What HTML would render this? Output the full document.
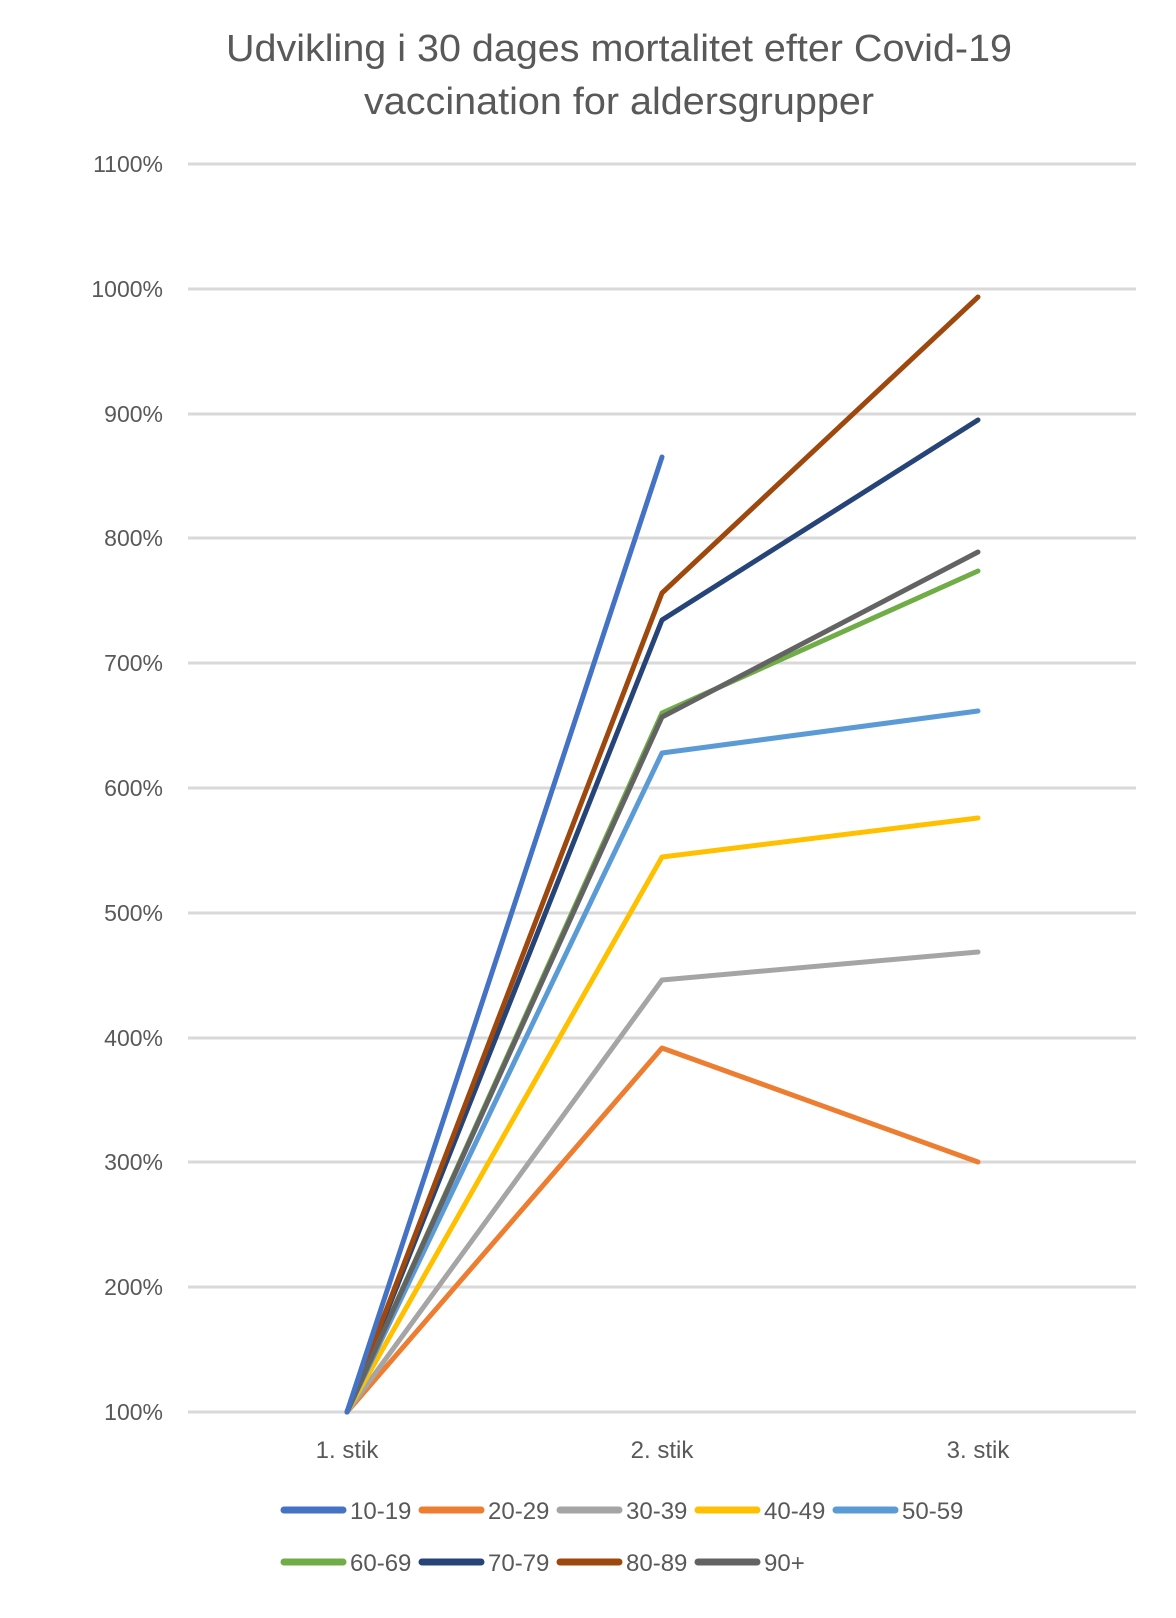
<!DOCTYPE html>
<html><head><meta charset="utf-8"><style>
body{margin:0;background:#fff}
text{font-family:"Liberation Sans",sans-serif;fill:#595959}
</style></head><body>
<svg width="1176" height="1613" viewBox="0 0 1176 1613" xmlns="http://www.w3.org/2000/svg">
<rect width="1176" height="1613" fill="#fff"/>
<text x="619" y="61" font-size="38" text-anchor="middle" textLength="786" lengthAdjust="spacingAndGlyphs">Udvikling i 30 dages mortalitet efter Covid-19</text>
<text x="619" y="114" font-size="38" text-anchor="middle" textLength="510" lengthAdjust="spacingAndGlyphs">vaccination for aldersgrupper</text>
<g stroke="#d9d9d9" stroke-width="3">
<line x1="188" x2="1136" y1="164" y2="164"/><line x1="188" x2="1136" y1="289" y2="289"/>
<line x1="188" x2="1136" y1="414" y2="414"/><line x1="188" x2="1136" y1="538" y2="538"/>
<line x1="188" x2="1136" y1="663" y2="663"/><line x1="188" x2="1136" y1="788" y2="788"/>
<line x1="188" x2="1136" y1="913" y2="913"/><line x1="188" x2="1136" y1="1038" y2="1038"/>
<line x1="188" x2="1136" y1="1162" y2="1162"/><line x1="188" x2="1136" y1="1287" y2="1287"/>
<line x1="188" x2="1136" y1="1412" y2="1412"/>
</g>
<g font-size="23" text-anchor="end">
<text x="163" y="172">1100%</text><text x="163" y="297">1000%</text><text x="163" y="422">900%</text>
<text x="163" y="546">800%</text><text x="163" y="671">700%</text><text x="163" y="796">600%</text>
<text x="163" y="921">500%</text><text x="163" y="1046">400%</text><text x="163" y="1170">300%</text>
<text x="163" y="1295">200%</text><text x="163" y="1420">100%</text>
</g>
<g font-size="24" text-anchor="middle">
<text x="347" y="1458">1. stik</text><text x="662" y="1458">2. stik</text><text x="978" y="1458">3. stik</text>
</g>
<g fill="none" stroke-width="5" stroke-linejoin="round" stroke-linecap="round">
<polyline stroke="#ed7d31" points="347,1412 662,1048 978,1162"/>
<polyline stroke="#a5a5a5" points="347,1412 662,980 978,952"/>
<polyline stroke="#ffc000" points="347,1412 662,857 978,818"/>
<polyline stroke="#5b9bd5" points="347,1412 662,753 978,711"/>
<polyline stroke="#70ad47" points="347,1412 662,713 978,571"/>
<polyline stroke="#264478" points="347,1412 662,620 978,420"/>
<polyline stroke="#9e480e" points="347,1412 662,593 978,297"/>
<polyline stroke="#636363" points="347,1412 662,717 978,552"/>
<polyline stroke="#4472c4" points="347,1412 662,457"/>
</g>
<g stroke-width="7" stroke-linecap="round">
<line x1="284" x2="343" y1="1510" y2="1510" stroke="#4472c4"/>
<line x1="422" x2="481" y1="1510" y2="1510" stroke="#ed7d31"/>
<line x1="560" x2="619" y1="1510" y2="1510" stroke="#a5a5a5"/>
<line x1="698" x2="757" y1="1510" y2="1510" stroke="#ffc000"/>
<line x1="836" x2="895" y1="1510" y2="1510" stroke="#5b9bd5"/>
<line x1="284" x2="343" y1="1562" y2="1562" stroke="#70ad47"/>
<line x1="422" x2="481" y1="1562" y2="1562" stroke="#264478"/>
<line x1="560" x2="619" y1="1562" y2="1562" stroke="#9e480e"/>
<line x1="698" x2="757" y1="1562" y2="1562" stroke="#636363"/>
</g>
<g font-size="24">
<text x="350" y="1519">10-19</text><text x="488" y="1519">20-29</text><text x="626" y="1519">30-39</text>
<text x="764" y="1519">40-49</text><text x="902" y="1519">50-59</text>
<text x="350" y="1571">60-69</text><text x="488" y="1571">70-79</text><text x="626" y="1571">80-89</text>
<text x="764" y="1571">90+</text>
</g>
</svg>
</body></html>
